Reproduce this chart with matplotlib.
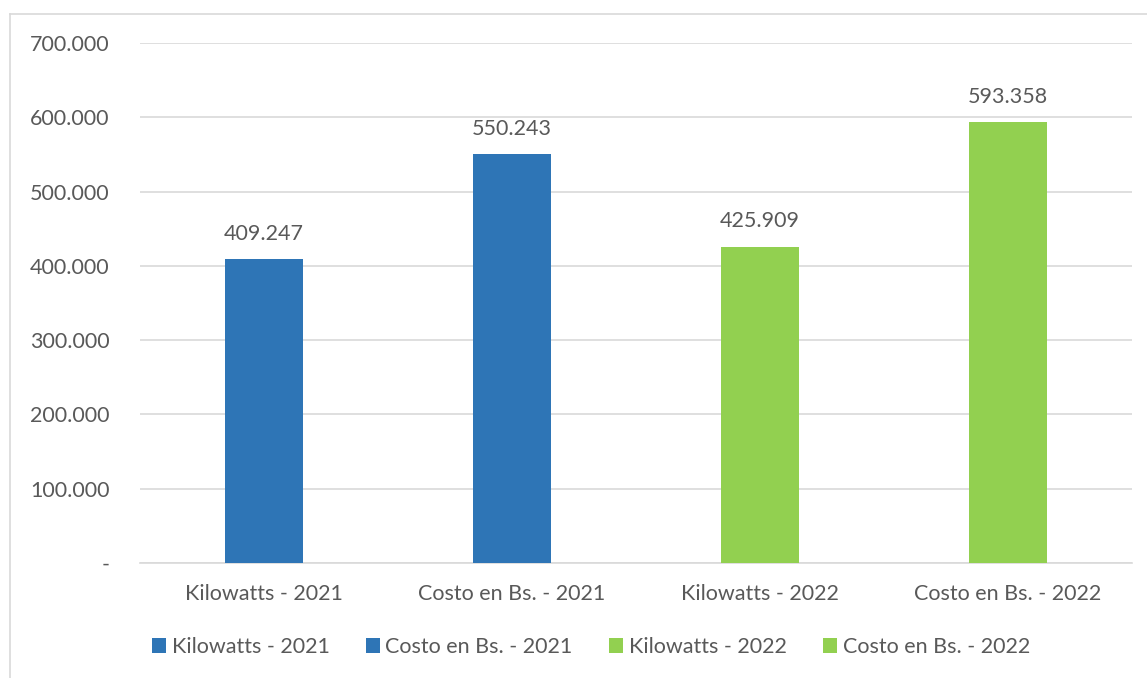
import matplotlib
matplotlib.use("Agg")
import matplotlib.pyplot as plt
from matplotlib.lines import Line2D
from matplotlib.patches import Patch

categories = ["Kilowatts - 2021", "Costo en Bs. - 2021", "Kilowatts - 2022", "Costo en Bs. - 2022"]
values = [409247, 550243, 425909, 593358]
colors = ["#2E75B6", "#2E75B6", "#92D050", "#92D050"]
yticks = [0, 100000, 200000, 300000, 400000, 500000, 600000, 700000]


def fmt_thousands(v):
    if v == 0:
        return "-"
    return f"{v:,.0f}".replace(",", ".")


plt.rcParams["font.family"] = ["Lato", "DejaVu Sans"]
text_color = "#595959"
fs = 15.5

fig = plt.figure(figsize=(11.47, 6.78), dpi=100)
ax = fig.add_axes([140 / 1147, 1 - 563 / 678, 992 / 1147, 520 / 678])

x = list(range(len(categories)))
ax.bar(x, values, width=0.315, color=colors, zorder=3)
for xi, v in zip(x, values):
    ax.annotate(fmt_thousands(v), (xi, v), xytext=(0, 11), textcoords="offset points",
                ha="center", va="bottom", fontsize=fs, color=text_color)

ax.set_xlim(-0.5, 3.5)
ax.set_ylim(0, 700000)
ax.set_yticks(yticks)
ax.set_yticklabels([fmt_thousands(t) for t in yticks])
ax.set_xticks(x)
ax.set_xticklabels(categories)
ax.tick_params(axis="both", length=0, labelsize=fs, labelcolor=text_color)
ax.tick_params(axis="y", pad=22)
ax.tick_params(axis="x", pad=15)
ax.grid(axis="y", color="#D9D9D9", linewidth=1.2, zorder=0)
for s in ["top", "right", "left"]:
    ax.spines[s].set_visible(False)
ax.spines["bottom"].set_color("#D9D9D9")
ax.spines["bottom"].set_linewidth(1.2)

handles = [Patch(facecolor=c, edgecolor="none") for c in colors]
leg = fig.legend(handles, categories, loc="center", bbox_to_anchor=(591 / 1147, 1 - 647 / 678),
                 ncol=4, frameon=False, fontsize=fs, labelcolor=text_color,
                 handlelength=0.65, handleheight=0.65, handletextpad=0.25, columnspacing=1.7)

# outer chart border
fig.add_artist(Line2D([10 / 1147, 10 / 1147], [0, 1 - 14 / 678], transform=fig.transFigure,
                      color="#D9D9D9", linewidth=1.2))
fig.add_artist(Line2D([10 / 1147, 1], [1 - 14 / 678, 1 - 14 / 678], transform=fig.transFigure,
                      color="#D9D9D9", linewidth=1.2))

fig.savefig("out.png", dpi=100, facecolor="white")
